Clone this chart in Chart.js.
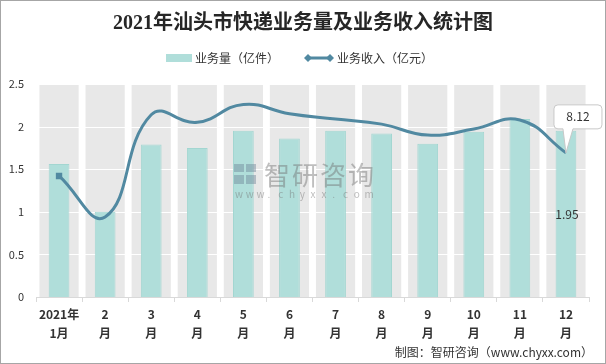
<!DOCTYPE html>
<html><head><meta charset="utf-8">
<script src="https://cdn.jsdelivr.net/npm/chart.js@4.4.1/dist/chart.umd.min.js"></script>
<style>html,body{margin:0;padding:0;background:#fff;}#wrap{width:606px;height:364px;position:relative;}</style>
</head><body><div id="wrap"><canvas id="c" width="606" height="364"></canvas></div>
<script>
const categories = [['2021年','1月'],['2','月'],['3','月'],['4','月'],['5','月'],['6','月'],['7','月'],['8','月'],['9','月'],['10','月'],['11','月'],['12','月']];
const volume = [1.56, 1.00, 1.79, 1.75, 1.95, 1.86, 1.95, 1.92, 1.80, 1.94, 2.09, 1.95];
const revenue = [6.82, 4.51, 10.27, 9.84, 10.85, 10.32, 10.03, 9.74, 9.12, 9.46, 9.97, 8.12];
const volumeName = '业务量（亿件）';
const revenueName = '业务收入（亿元）';
const titleText = '2021年汕头市快递业务量及业务收入统计图';
const sourceText = '制图：智研咨询（www.chyxx.com）';

const FONT = '"Noto Sans CJK SC", "Noto Sans", sans-serif';
Chart.defaults.font.family = FONT;
const TEAL = '#b0deda';
const LINEC = '#5189a1';

const bgPlugin = {
  id: 'bgcols',
  beforeDatasetsDraw(chart) {
    const {ctx, chartArea: a, scales: {x, y}} = chart;
    const w = (a.right - a.left) / categories.length * 0.85;
    ctx.save();
    ctx.fillStyle = '#e8e8e8';
    categories.forEach((c, i) => {
      const cx = x.getPixelForValue(i);
      ctx.fillRect(cx - w / 2, a.top, w, a.bottom - a.top);
    });
    ctx.strokeStyle = '#ffffff';
    ctx.lineWidth = 1;
    y.ticks.forEach(t => {
      if (t.value === 0) return;
      const py = Math.round(y.getPixelForValue(t.value)) + 0.5;
      ctx.beginPath(); ctx.moveTo(a.left, py); ctx.lineTo(a.right, py); ctx.stroke();
    });
    ctx.restore();
  }
};

const decoPlugin = {
  id: 'deco',
  afterDraw(chart) {
    const ctx = chart.ctx;
    ctx.save();
    // watermark
    ctx.globalAlpha = 0.45;
    ctx.fillStyle = '#6f8496';
    ctx.fillRect(234, 164, 10, 8); ctx.fillRect(246, 164, 10, 8);
    ctx.fillRect(234, 175, 10, 9); ctx.fillRect(246, 175, 10, 9);
    ctx.fillStyle = '#707070';
    ctx.font = '26px ' + FONT;
    ctx.textAlign = 'left'; ctx.textBaseline = 'middle';
    const wm = '智研咨询';
    for (let i = 0; i < wm.length; i++) ctx.fillText(wm[i], 264 + i * 28, 175);
    ctx.font = '10px ' + FONT;
    const wu = 'www.chyxx.com';
    for (let i = 0; i < wu.length; i++) ctx.fillText(wu[i], 235 + i * 10.8, 194);
    ctx.globalAlpha = 1;

    // title
    ctx.fillStyle = '#262626';
    ctx.font = 'bold 20px "Liberation Serif", ' + FONT;
    ctx.textAlign = 'center'; ctx.textBaseline = 'middle';
    ctx.fillText(titleText, 303, 24);

    // legend
    ctx.font = '12px ' + FONT;
    ctx.textAlign = 'left';
    ctx.fillStyle = TEAL;
    ctx.fillRect(166, 54, 26, 8);
    ctx.fillStyle = '#333';
    ctx.fillText(volumeName, 195, 58);
    ctx.strokeStyle = LINEC; ctx.lineWidth = 3;
    ctx.beginPath(); ctx.moveTo(307, 58); ctx.lineTo(331, 58); ctx.stroke();
    ctx.fillStyle = LINEC;
    [308, 330].forEach(dx => {
      ctx.beginPath(); ctx.moveTo(dx - 4, 58); ctx.lineTo(dx, 54); ctx.lineTo(dx + 4, 58); ctx.lineTo(dx, 62); ctx.closePath(); ctx.fill();
    });
    ctx.fillStyle = '#333';
    ctx.fillText(revenueName, 337, 58);

    // source
    ctx.textAlign = 'right';
    ctx.fillText(sourceText, 593, 352);

    // bar label for last bar
    const barMeta = chart.getDatasetMeta(0);
    const lastBar = barMeta.data[volume.length - 1];
    ctx.textAlign = 'center';
    ctx.fillStyle = '#333';
    ctx.fillText(volume[volume.length - 1].toFixed(2), lastBar.x + 1, (lastBar.y + lastBar.base) / 2 + 1);

    // callout for last line point
    const lineMeta = chart.getDatasetMeta(1);
    const p = lineMeta.data[revenue.length - 1];
    const px = p.x, py = p.y;
    const bl = px - 12, br = px + 36, bt = py - 48, bb = py - 24, r = 4;
    ctx.beginPath();
    ctx.moveTo(bl + r, bt);
    ctx.lineTo(br - r, bt); ctx.quadraticCurveTo(br, bt, br, bt + r);
    ctx.lineTo(br, bb - r); ctx.quadraticCurveTo(br, bb, br - r, bb);
    ctx.lineTo(px + 7, bb);
    ctx.lineTo(px, py);
    ctx.lineTo(px - 3, bb);
    ctx.lineTo(bl + r, bb); ctx.quadraticCurveTo(bl, bb, bl, bb - r);
    ctx.lineTo(bl, bt + r); ctx.quadraticCurveTo(bl, bt, bl + r, bt);
    ctx.closePath();
    ctx.fillStyle = '#fff'; ctx.fill();
    ctx.strokeStyle = '#c8c8c8'; ctx.lineWidth = 1; ctx.stroke();
    ctx.fillStyle = '#333';
    ctx.fillText(revenue[revenue.length - 1].toFixed(2), (bl + br) / 2, (bt + bb) / 2);

    // border
    ctx.strokeStyle = '#a6a6a6'; ctx.lineWidth = 1;
    ctx.strokeRect(0.5, 0.5, 605, 363);
    ctx.restore();
  }
};

new Chart(document.getElementById('c'), {
  data: {
    labels: categories,
    datasets: [
      {
        type: 'bar', label: volumeName, data: volume, yAxisID: 'y', order: 2,
        backgroundColor: TEAL, borderColor: '#a3d6d1', borderWidth: 1,
        barPercentage: 0.45, categoryPercentage: 1, grouped: false
      },
      {
        type: 'line', label: revenueName, data: revenue, yAxisID: 'y1', order: 1,
        borderColor: LINEC, borderWidth: 3, tension: 0.45, fill: false,
        pointStyle: 'rect', pointRadius: revenue.map((v, i) => i === 0 ? 4.5 : 0),
        pointBackgroundColor: LINEC, pointBorderColor: LINEC, pointBorderWidth: 0
      }
    ]
  },
  options: {
    responsive: false, animation: false,
    layout: {padding: {top: 84, bottom: 17.6, left: 0, right: 17}},
    plugins: {legend: {display: false}, title: {display: false}, tooltip: {enabled: false}},
    scales: {
      x: {
        offset: true,
        grid: {drawOnChartArea: false, offset: true, tickLength: 5, color: '#d9d9d9'},
        border: {color: '#d9d9d9'},
        ticks: {autoSkip: false, maxRotation: 0, padding: 3, color: '#333',
          font: {size: 12, weight: 'bold', lineHeight: 1.6}}
      },
      y: {
        min: 0, max: 2.5,
        afterFit(s) { s.width = 36; },
        grid: {display: false, drawTicks: false},
        border: {display: false},
        ticks: {stepSize: 0.5, padding: 12, color: '#333', font: {size: 11},
          callback: v => String(Math.round(v * 10) / 10)}
      },
      y1: {
        min: 0, max: 12, position: 'right', display: false
      }
    }
  },
  plugins: [bgPlugin, decoPlugin]
});
</script></body></html>
